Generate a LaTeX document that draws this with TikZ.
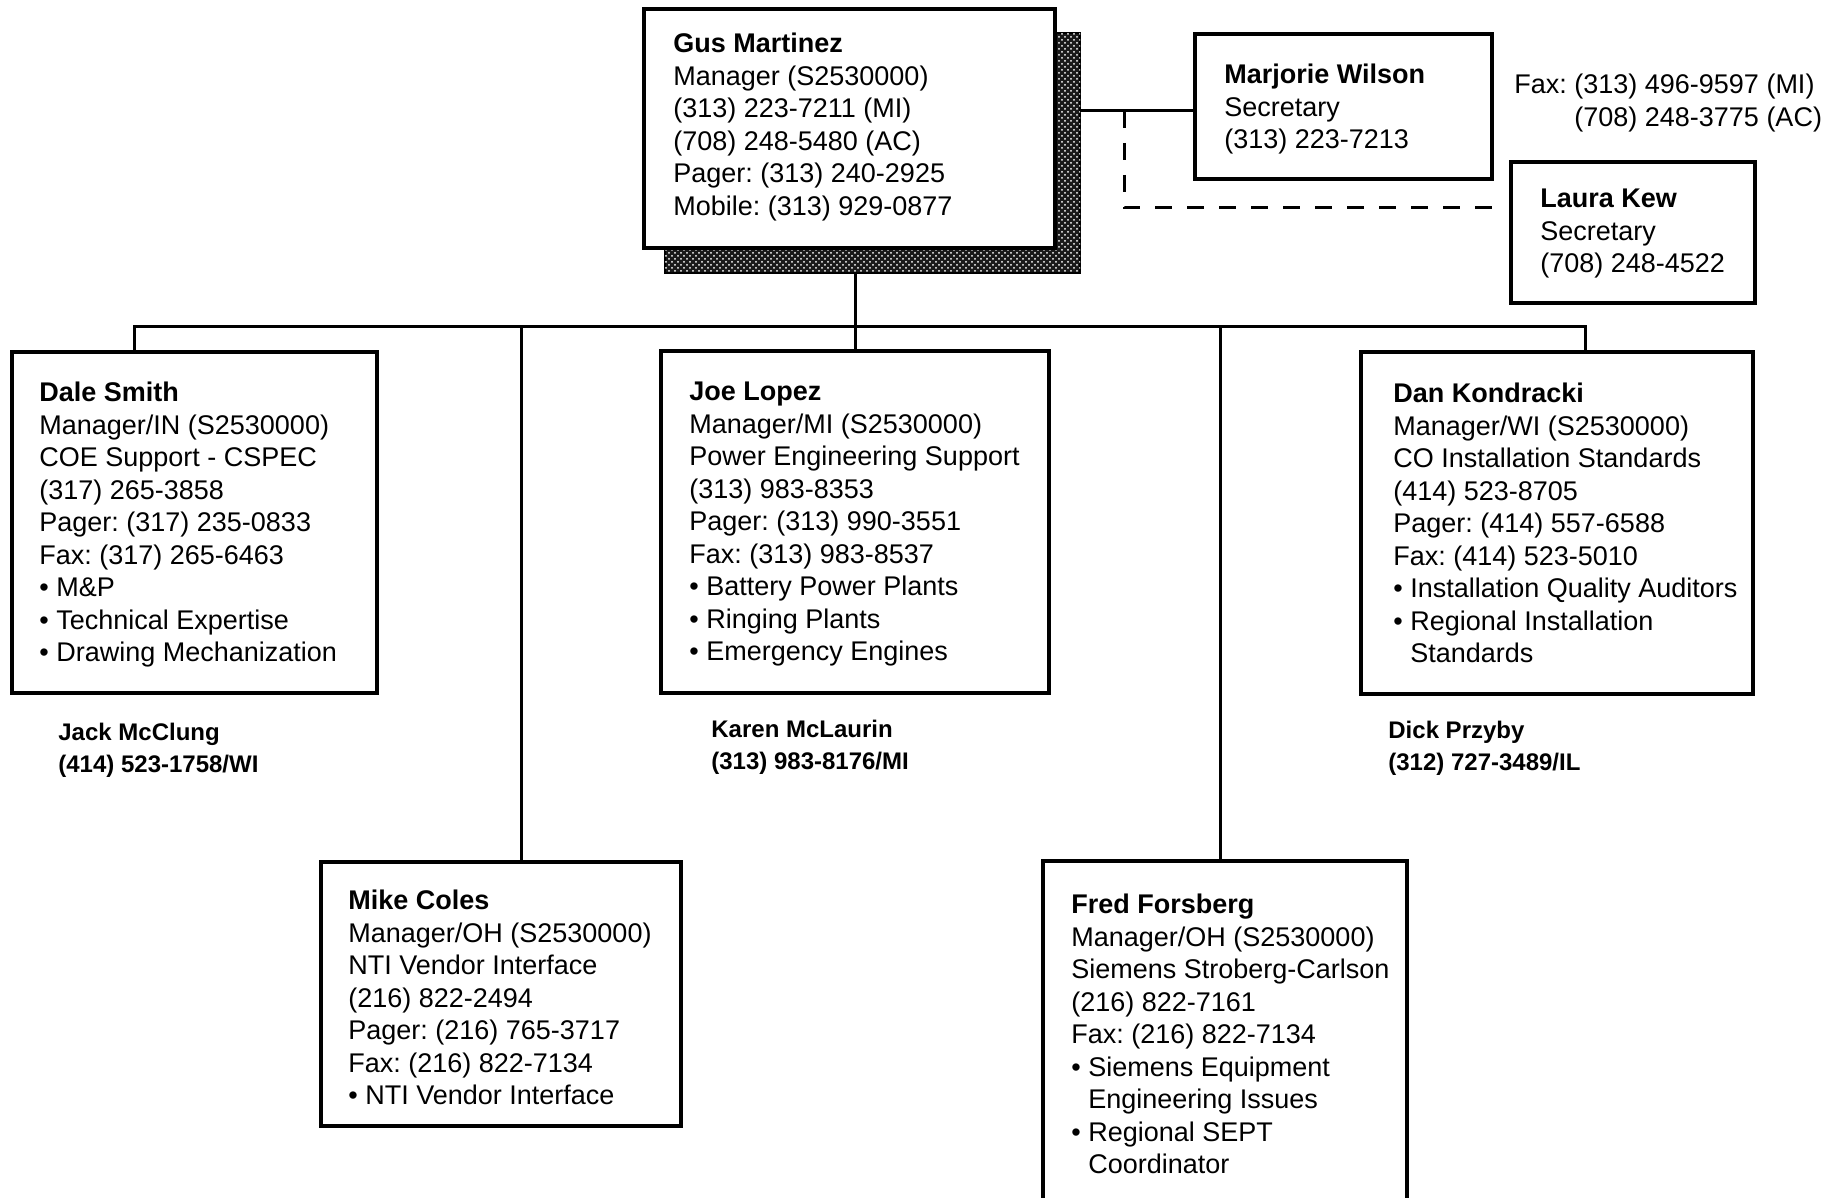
\documentclass[tikz,border=0pt]{standalone}
\usepackage{fontspec}
\setmainfont{Liberation Sans}
\usetikzlibrary{patterns}
\frenchspacing
\begin{document}
\begin{tikzpicture}[x=0.5pt,y=-0.5pt,
  box/.style={draw, line width=1.6pt, fill=white, anchor=north west, inner sep=0pt, outer sep=0pt},
  shadowbox/.style={draw, line width=1.2pt, fill=black!90, anchor=north west, inner sep=0pt, outer sep=0pt},
  txt/.style={anchor=north west, inner sep=0pt, align=left, font=\fontsize{13.5}{16.25}\selectfont},
  note/.style={anchor=north west, inner sep=0pt, align=left, font=\fontsize{12}{15.75}\selectfont\bfseries},
  conn/.style={line width=1.5pt},
  dashconn/.style={line width=1.5pt, dash pattern=on 8.5pt off 7.5pt}]

\clip (0,0) rectangle (1832,1198);
\fill[white] (0,0) rectangle (1832,1198);

% shadow of top box
\node[shadowbox, minimum width=207.5pt, minimum height=120pt] (gussh) at (665,33) {};
\fill[pattern=crosshatch dots, pattern color=white] (gussh.north west) rectangle (gussh.south east);

% boxes
\node[box, minimum width=205.5pt, minimum height=119.5pt] (gus) at (644,9) {};
\node[box, minimum width=148.5pt, minimum height=72.5pt] (marj) at (1195,34) {};
\node[box, minimum width=122pt, minimum height=70.5pt] (laura) at (1511,162) {};
\node[box, minimum width=182.5pt, minimum height=170.5pt] (dale) at (12,352) {};
\node[box, minimum width=194pt, minimum height=171pt] (joe) at (661,351) {};
\node[box, minimum width=196pt, minimum height=171pt] (dan) at (1361,352) {};
\node[box, minimum width=180pt, minimum height=132pt] (mike) at (321,862) {};
\node[box, minimum width=182pt, minimum height=185pt] (fred) at (1043,861) {};

% connectors
\coordinate (busL) at (134,327);
\coordinate (busR) at (1585,327);
\coordinate (mikedrop) at (521,327);
\coordinate (freddrop) at (1220,327);
\coordinate (sj) at (1124,111);
\coordinate (dend) at (1492,208);

\draw[conn] (dale.north -| busL) -- (busL) -- (busR) -- (busR |- dan.north);
\draw[conn] (joe.north) -- (joe.north |- gussh.south);
\draw[conn] (mikedrop) -- (mikedrop |- mike.north);
\draw[conn] (freddrop) -- (freddrop |- fred.north);
\draw[conn] (gussh.east |- sj) -- (sj) -- (sj -| marj.west);
\draw[dashconn] (sj) |- (dend);

% texts
\node[txt] (gust) at (673,33) {\textbf{Gus Martinez}\\Manager (S2530000)\\(313) 223-7211 (MI)\\(708) 248-5480 (AC)\\Pager: (313) 240-2925\\Mobile: (313) 929-0877};
\node[txt] (marjt) at (1224,64) {\textbf{Marjorie Wilson}\\Secretary\\(313) 223-7213};
\node[txt] (laurat) at (1540,189) {\textbf{Laura Kew}\\Secretary\\(708) 248-4522};
\node[txt] (fax) at (1514,74) {Fax: (313) 496-9597 (MI)\\\phantom{Fax: }(708) 248-3775 (AC)};
\node[txt] (dalet) at (39,382) {\textbf{Dale Smith}\\Manager/IN (S2530000)\\COE Support - CSPEC\\(317) 265-3858\\Pager: (317) 235-0833\\Fax: (317) 265-6463\\• M\&P\\• Technical Expertise\\• Drawing Mechanization};
\node[txt] (joet) at (689,382) {\textbf{Joe Lopez}\\Manager/MI (S2530000)\\Power Engineering Support\\(313) 983-8353\\Pager: (313) 990-3551\\Fax: (313) 983-8537\\• Battery Power Plants\\• Ringing Plants\\• Emergency Engines};
\node[txt] (dant) at (1393,383) {\textbf{Dan Kondracki}\\Manager/WI (S2530000)\\CO Installation Standards\\(414) 523-8705\\Pager: (414) 557-6588\\Fax: (414) 523-5010\\• Installation Quality Auditors\\• Regional Installation\\\phantom{• }Standards};
\node[txt] (miket) at (348,890) {\textbf{Mike Coles}\\Manager/OH (S2530000)\\NTI Vendor Interface\\(216) 822-2494\\Pager: (216) 765-3717\\Fax: (216) 822-7134\\• NTI Vendor Interface};
\node[txt] (fredt) at (1071,894) {\textbf{Fred Forsberg}\\Manager/OH (S2530000)\\Siemens Stroberg-Carlson\\(216) 822-7161\\Fax: (216) 822-7134\\• Siemens Equipment\\\phantom{• }Engineering Issues\\• Regional SEPT\\\phantom{• }Coordinator};

\node[note] (jack) at (58,723) {Jack McClung\\(414) 523-1758/WI};
\node[note] (karen) at (711,720) {Karen McLaurin\\(313) 983-8176/MI};
\node[note] (dick) at (1388,721) {Dick Przyby\\(312) 727-3489/IL};
\end{tikzpicture}
\end{document}
